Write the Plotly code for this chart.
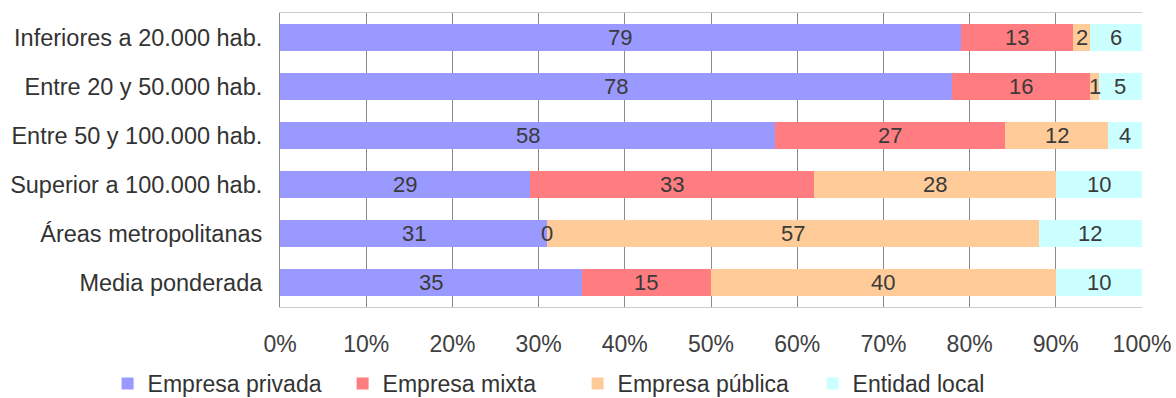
import plotly.graph_objects as go

categories = [
    "Inferiores a 20.000 hab.",
    "Entre 20 y 50.000 hab.",
    "Entre 50 y 100.000 hab.",
    "Superior a 100.000 hab.",
    "Áreas metropolitanas",
    "Media ponderada",
]
series_names = ["Empresa privada", "Empresa mixta", "Empresa pública", "Entidad local"]
privada = [79, 78, 58, 29, 31, 35]
mixta = [13, 16, 27, 33, 0, 15]
publica = [2, 1, 12, 28, 57, 40]
local = [6, 5, 4, 10, 12, 10]
colors = ["#9999FF", "#FF7C80", "#FFCC99", "#CCFFFF"]
x_ticks = list(range(0, 101, 10))

series = [privada, mixta, publica, local]
FONT = "Liberation Sans, Arial, sans-serif"

fig = go.Figure()
for name, vals, col in zip(series_names, series, colors):
    fig.add_trace(go.Bar(
        y=categories, x=vals, name=name, orientation="h",
        marker=dict(color=col, line=dict(width=0)),
        hoverinfo="x+y+name",
    ))

# value labels centred on each segment of the 100% stacked bars
annotations = []
for i, cat in enumerate(categories):
    row = [s[i] for s in series]
    total = sum(row)
    cum = 0
    for v in row:
        centre = (cum + v / 2) / total * 100
        annotations.append(dict(
            x=centre, y=cat, xref="x", yref="y", text=str(v),
            showarrow=False, font=dict(family=FONT, size=22, color="#3a3a3a"),
        ))
        cum += v

fig.update_layout(
    barmode="stack",
    barnorm="percent",
    bargap=0.45,
    width=1176, height=398,
    margin=dict(l=280, r=34, t=13, b=91, autoexpand=False),
    paper_bgcolor="white", plot_bgcolor="white",
    font=dict(family=FONT, size=22, color="#333333"),
    annotations=annotations,
    legend=dict(
        orientation="h", x=-0.2, xanchor="left", y=-0.187, yanchor="top",
        font=dict(family=FONT, size=23, color="#333333"),
        entrywidth=190, entrywidthmode="pixels",
        traceorder="normal", itemclick=False,
    ),
    xaxis=dict(
        range=[0, 100], tickvals=x_ticks, ticktext=[f"{t}%" for t in x_ticks],
        showgrid=True, gridcolor="#8a8a8a", gridwidth=1,
        showline=True, linecolor="#cccccc", mirror=True,
        zeroline=False, ticks="", ticklabelstandoff=16,
        tickfont=dict(family=FONT, size=23, color="#404040"),
        fixedrange=True,
    ),
    yaxis=dict(
        autorange="reversed", showgrid=False, showline=True,
        linecolor="#8a8a8a", ticks="", ticklabelstandoff=12,
        tickfont=dict(family=FONT, size=23.5, color="#333333"),
        fixedrange=True,
    ),
)

fig.write_html("out.html")
